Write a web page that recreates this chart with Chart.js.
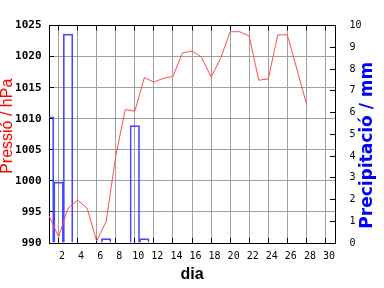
<!DOCTYPE html>
<html>
<head>
<meta charset="utf-8">
<script src="https://cdn.jsdelivr.net/npm/chart.js@4.4.1/dist/chart.umd.min.js"></script>
<style>
html, body { margin: 0; padding: 0; background: #fff; }
canvas { display: block; }
</style>
</head>
<body>
<canvas id="meteoChart" width="384" height="288"></canvas>
<script>
//days of the month with a pressure reading
const dies = [1,2,3,4,5,6,7,8,9,10,11,12,13,14,15,16,17,18,19,20,21,22,23,24,25,26,27,28];
//daily mean pressure, hPa
const pressio = [994.4,991.0,995.6,996.9,995.6,990.3,993.5,1004.0,1011.5,1011.2,1016.6,1015.9,1016.5,1016.8,
                 1020.6,1020.9,1019.9,1016.7,1019.7,1024.0,1024.0,1023.3,1016.2,1016.4,1023.5,1023.5,1018.0,1012.4];
//days with rain and the rain itself, mm
const diesPluja = [1,2,3,7,10,11];
const pluja = [5.8,2.8,9.6,0.2,5.4,0.2];
//tick labels
const diaTicks = [2,4,6,8,10,12,14,16,18,20,22,24,26,28,30];
const pressioTicks = [990,995,1000,1005,1010,1015,1020,1025];
const plujaTicks = [0,1,2,3,4,5,6,7,8,9,10];
const titolPressio = 'Pressió / hPa';
const titolPluja = 'Precipitació / mm';

const ctx = document.getElementById('meteoChart');

const setTicks = list => scale => { scale.ticks = list.map(v => ({value: v})); };
const plain = v => String(v); //no thousands separator

//both side titles read bottom-to-top, chart.js would turn the right one the other way
function vTitle(c, text, x, y, font, color) {
    c.save();
    c.translate(x, y);
    c.rotate(-Math.PI / 2);
    c.font = font;
    c.fillStyle = color;
    c.textAlign = 'center';
    c.textBaseline = 'middle';
    c.fillText(text, 0, 0);
    c.restore();
}
const sideTitles = {
    id: 'sideTitles',
    afterDraw(chart) {
        const area = chart.chartArea, mid = (area.top + area.bottom) / 2;
        vTitle(chart.ctx, titolPressio, chart.scales.y.left + 8, mid - 8, '16px "Liberation Sans"', '#ff0000');
        vTitle(chart.ctx, titolPluja, chart.scales.y1.right - 16, mid + 11, 'bold 17px "DejaVu Sans"', '#0000ff');
    }
};

const monoSmall = {family: 'DejaVu Sans Mono', size: 10};

new Chart(ctx, {
    type: 'bar',
    data: {
        datasets: [
            {
                type: 'line',
                label: 'Pressió',
                data: dies.map((d, i) => ({x: d, y: pressio[i]})),
                yAxisID: 'y',
                borderColor: '#ff4d4d',
                borderWidth: 1,
                pointRadius: 0,
                tension: 0,
                order: 1
            },
            {
                type: 'bar',
                label: 'Precipitació',
                data: diesPluja.map((d, i) => ({x: d, y: pluja[i]})),
                yAxisID: 'y1',
                borderColor: '#4848ff',
                backgroundColor: 'rgba(0,0,0,0)',
                borderWidth: 1,
                barPercentage: 1,
                categoryPercentage: 1,
                order: 2
            }
        ]
    },
    options: {
        responsive: false,
        animation: false,
        layout: {padding: {top: 13}},
        plugins: {legend: {display: false}, tooltip: {enabled: false}},
        scales: {
            x: {
                type: 'linear', position: 'bottom', min: 1, max: 31, offset: false,
                afterBuildTicks: setTicks(diaTicks),
                afterFit: s => { s.height = 45; },
                grid: {color: '#a0a0a0', offset: false, tickLength: -5, tickColor: '#000'},
                border: {color: '#000'},
                ticks: {color: '#000', font: monoSmall, padding: 12, labelOffset: 3.5, maxRotation: 0, autoSkip: false, callback: plain},
                title: {display: true, text: 'dia', color: '#000', font: {family: 'Liberation Sans', size: 16, weight: 'bold'}, padding: {bottom: 4}}
            },
            xTop: {
                type: 'linear', position: 'top', min: 1, max: 31, offset: false,
                afterBuildTicks: setTicks(diaTicks),
                afterFit: s => { s.height = 0; },
                grid: {drawOnChartArea: false, offset: false, tickLength: -5, tickColor: '#000'},
                border: {color: '#000'},
                ticks: {display: false}
            },
            y: {
                type: 'linear', position: 'left', min: 990, max: 1025,
                afterBuildTicks: setTicks(pressioTicks),
                afterFit: s => { s.width = 49; },
                grid: {color: '#a0a0a0', tickLength: -5, tickColor: '#000'},
                border: {color: '#000'},
                ticks: {color: '#000', font: {family: 'DejaVu Sans Mono', size: 11, weight: 'bold'}, padding: 12.5, callback: plain}
            },
            y1: {
                type: 'linear', position: 'right', min: 0, max: 10,
                afterBuildTicks: setTicks(plujaTicks),
                afterFit: s => { s.width = 49; },
                grid: {drawOnChartArea: false, tickLength: -5, tickColor: '#000'},
                border: {color: '#000'},
                ticks: {color: '#000', font: monoSmall, padding: 19.5, callback: plain}
            }
        }
    },
    plugins: [sideTitles]
});
</script>
</body>
</html>
